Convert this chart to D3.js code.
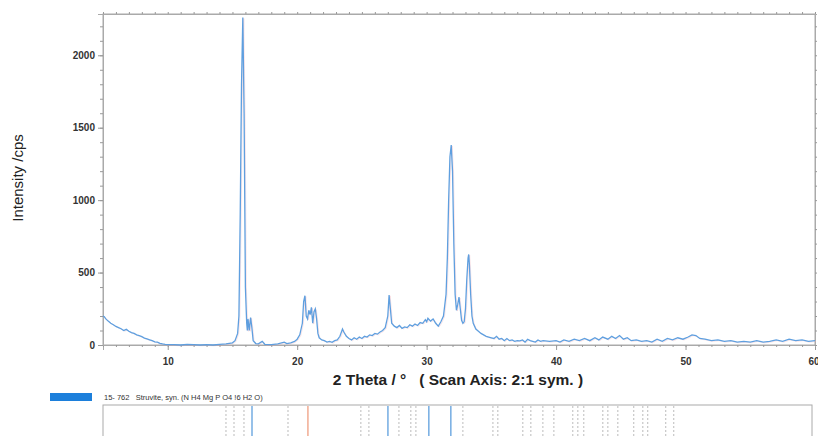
<!DOCTYPE html>
<html><head><meta charset="utf-8">
<script src="https://cdn.jsdelivr.net/npm/d3@7"></script>
<style>body{margin:0;background:#fff}svg{display:block}</style>
</head><body>
<script>
// ---- data ----
const twoTheta = [5.0,5.1,5.2,5.4,5.6,5.8,6.0,6.2,6.4,6.6,6.8,7.0,7.2,7.4,7.6,7.8,8.0,8.2,8.4,8.6,8.8,9.0,9.2,9.4,9.6,9.8,10.0,
10.5,11.0,11.5,12.0,12.5,13.0,13.5,14.0,14.5,15.0,15.2,15.4,15.5,15.6,15.7,15.8,15.9,16.0,16.1,16.15,16.2,16.25,16.3,16.4,16.5,16.6,16.8,17.0,17.3,17.5,18.0,18.5,19.0,19.2,19.5,19.8,
20.0,20.2,20.4,20.5,20.6,20.7,20.8,20.9,21.0,21.1,21.2,21.3,21.4,21.5,21.6,21.7,21.9,22.1,22.3,22.5,22.7,22.9,23.1,23.3,23.5,23.6,23.8,24.0,24.2,24.4,24.6,24.8,
25.0,25.2,25.4,25.6,25.8,26.0,26.2,26.4,26.6,26.8,27.0,27.1,27.2,27.3,27.5,27.7,27.9,28.1,28.3,28.5,28.7,28.9,29.1,29.3,29.5,29.7,29.9,30.0,30.1,30.3,30.5,30.7,30.9,31.1,31.3,
31.5,31.6,31.7,31.8,31.9,32.0,32.1,32.2,32.3,32.4,32.5,32.6,32.7,32.8,32.9,33.0,33.1,33.2,33.25,33.3,33.4,33.5,33.6,33.8,34.0,34.2,34.4,34.6,34.8,
35.0,35.2,35.4,35.6,35.8,36.0,36.2,36.4,36.6,36.8,37.0,37.2,37.4,37.6,37.8,38.0,38.2,38.4,38.6,38.8,39.0,39.5,40.0,40.3,40.6,41.0,41.4,41.8,42.2,42.6,
43.0,43.3,43.6,44.0,44.3,44.6,44.9,45.2,45.5,45.8,46.2,46.6,47.0,47.4,47.8,48.2,48.6,49.0,49.4,49.8,50.2,50.5,50.8,51.1,51.5,52.0,52.5,53.0,53.5,54.0,
54.5,55.0,55.5,56.0,56.5,57.0,57.5,58.0,58.5,59.0,59.5,60.0];
const intensity = [200,195,182,165,150,140,128,120,112,100,108,95,85,80,70,64,58,48,42,36,30,22,20,12,8,5,3,
2,0,4,3,0,2,0,5,8,15,30,80,200,900,1800,2260,1600,400,150,100,180,140,100,190,120,30,10,8,25,5,3,8,20,10,15,25,
40,70,150,300,340,200,180,240,210,260,150,230,250,180,80,50,35,30,20,25,18,30,35,60,110,90,60,45,35,50,40,55,
45,60,55,70,65,80,75,90,100,120,200,345,250,150,130,120,135,115,125,120,140,130,145,135,155,150,175,160,185,165,180,150,130,160,200,
350,600,1000,1300,1380,1200,700,350,240,280,330,250,170,150,160,250,450,600,625,560,350,200,150,110,95,80,70,60,55,
50,45,60,40,45,30,45,30,35,25,30,28,35,20,40,30,25,20,35,25,30,25,30,20,35,25,40,30,45,30,
50,35,55,40,60,45,65,40,50,30,35,25,30,20,40,25,45,35,50,40,55,70,65,45,40,30,35,25,30,20,
25,20,30,20,25,35,25,40,30,35,25,30];
const xTicks = [10,20,30,40,50,60];
const yTicks = [0,500,1000,1500,2000];
const refLines = [14.50,15.12,15.89,16.51,19.29,20.83,24.92,25.54,27.01,27.86,28.78,29.17,30.17,31.87,32.80,35.12,35.50,37.43,38.05,38.98,39.83,41.29,41.68,42.14,43.61,44.00,44.77,46.00,46.70,47.08,48.47,49.09];
const refKind = ["d","d","d","b","d","o","d","d","b","d","d","d","b","b","d","d","d","d","d","d","d","d","d","d","d","d","d","d","d","d","d","d"];
const xTitle = "2 Theta / °   ( Scan Axis: 2:1 sym. )";
const yTitle = "Intensity /cps";
const legendText = "15- 762   Struvite, syn. (N H4 Mg P O4 !6 H2 O)";

const W = 818, H = 436;
const m = {l:103, r:815, t:14, b:345};
const svg = d3.select("body").append("svg").attr("width", W).attr("height", H)
  .style("font-family", "Arial, 'Liberation Sans', sans-serif");

const x = d3.scaleLinear().domain([5, 60]).range([m.l, m.r]);
const y = d3.scaleLinear().domain([0, 2285]).range([m.b, m.t]);

// frame
svg.append("rect").attr("x", m.l).attr("y", m.t).attr("width", m.r - m.l).attr("height", m.b - m.t)
  .attr("fill", "none").attr("stroke", "#aaa").attr("stroke-width", 1);

// axes
const gx = svg.append("g").attr("transform", `translate(0,${m.b})`)
  .call(d3.axisBottom(x).tickValues(xTicks).tickSize(5).tickPadding(8).tickFormat(d3.format("d")));
const gxm = svg.append("g").attr("transform", `translate(0,${m.b})`)
  .call(d3.axisBottom(x).tickValues(d3.range(5, 60, 1)).tickSize(2).tickFormat(""));
const gxt = svg.append("g").attr("transform", `translate(0,${m.t})`)
  .call(d3.axisTop(x).tickValues(d3.range(5, 61, 1)).tickSize(2).tickFormat(""));
const gy = svg.append("g").attr("transform", `translate(${m.l},0)`)
  .call(d3.axisLeft(y).tickValues(yTicks).tickSize(5).tickPadding(3).tickFormat(d3.format("d")));
const gym = svg.append("g").attr("transform", `translate(${m.l},0)`)
  .call(d3.axisLeft(y).tickValues(d3.range(0, 2300, 100)).tickSize(3).tickFormat(""));
const gyr = svg.append("g").attr("transform", `translate(${m.r},0)`)
  .call(d3.axisRight(y).tickValues(d3.range(0, 2300, 100)).tickSize(2).tickFormat(""));
[gx, gxm, gxt, gy, gym, gyr].forEach(g => {
  g.select(".domain").attr("stroke", "#aaa");
  g.selectAll(".tick line").attr("stroke", "#999");
});
[gx, gy].forEach(g => g.selectAll("text").attr("fill", "#333").attr("font-size", 10).attr("font-weight", "bold"));
gx.selectAll(".tick text").filter(d => d === 60).attr("text-anchor", "end").attr("dx", "4");

// trace
const pts = twoTheta.map((t, i) => [t, intensity[i]]);
const line = d3.line().x(d => x(d[0])).y(d => y(d[1]));
svg.append("path").datum(pts).attr("d", line).attr("fill", "none")
  .attr("stroke", "rgba(240,170,180,0.3)").attr("stroke-width", 1).attr("transform", "translate(1,0.8)");
svg.append("path").datum(pts).attr("d", line).attr("fill", "none")
  .attr("stroke", "#5f9fdf").attr("stroke-width", 1.3);

// titles
svg.append("text").attr("x", 458).attr("y", 385).attr("text-anchor", "middle")
  .attr("font-size", 15.5).attr("font-weight", "bold").attr("fill", "#222")
  .attr("xml:space", "preserve").style("white-space", "pre").text(xTitle);
svg.append("text").attr("transform", "translate(23,178) rotate(-90)").attr("text-anchor", "middle")
  .attr("font-size", 15).attr("fill", "#222").text(yTitle);

// reference pattern strip
svg.append("rect").attr("x", 50).attr("y", 393).attr("width", 42).attr("height", 8).attr("fill", "#1c7fdb");
svg.append("text").attr("x", 104).attr("y", 400).attr("font-size", 7.5).attr("fill", "#333")
  .attr("xml:space", "preserve").style("white-space", "pre").text(legendText);
svg.append("rect").attr("x", m.l).attr("y", 405).attr("width", 709).attr("height", 40)
  .attr("fill", "none").attr("stroke", "#aaa");
const colorOf = {d: "#aaa", b: "#6aa6e0", o: "#f0a58a"};
svg.append("g").selectAll("line").data(refLines).join("line")
  .attr("x1", d => x(d)).attr("x2", d => x(d)).attr("y1", 406).attr("y2", H)
  .attr("stroke", (d, i) => colorOf[refKind[i]])
  .attr("stroke-width", (d, i) => refKind[i] === "d" ? 0.8 : 1.4)
  .attr("stroke-dasharray", (d, i) => refKind[i] === "d" ? "2,2" : null);
</script>
</body></html>
